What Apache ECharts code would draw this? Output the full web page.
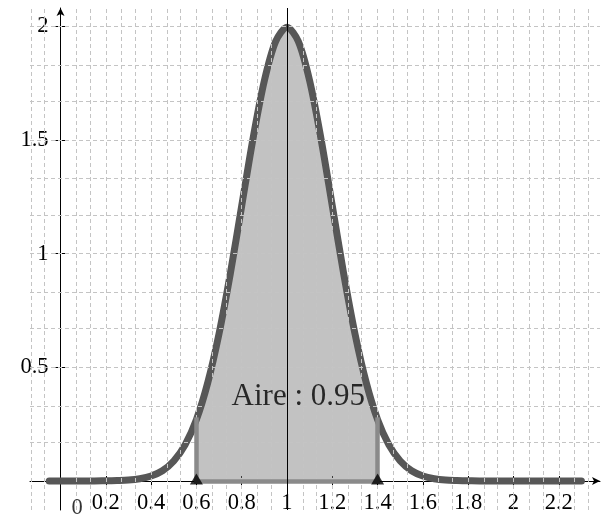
<!DOCTYPE html>
<html><head><meta charset="utf-8">
<script src="https://cdn.jsdelivr.net/npm/echarts@6/dist/echarts.min.js"></script>
<style>html,body{margin:0;padding:0;background:#fff}#c{width:602px;height:517px}</style>
</head><body><div id="c"></div>
<script>
// Density curve
const curveX = [-0.05, 0, 0.05, 0.1, 0.15, 0.2, 0.25, 0.3, 0.35, 0.4, 0.45, 0.5, 0.55, 0.6, 0.65, 0.7, 0.75, 0.8, 0.85, 0.9, 0.95, 1.0,
  1.05, 1.1, 1.15, 1.2, 1.25, 1.3, 1.35, 1.4, 1.45, 1.5, 1.55, 1.6, 1.65, 1.7, 1.75, 1.8, 1.85, 1.9, 1.95, 2.0, 2.05, 2.1, 2.15, 2.2, 2.25, 2.3];
const curveY = [0, 0, 0, 0, 0, 0.001, 0.002, 0.004, 0.010, 0.022, 0.045, 0.088, 0.159, 0.270, 0.432, 0.648, 0.913, 1.210, 1.506, 1.760, 1.933, 1.995,
  1.933, 1.760, 1.506, 1.210, 0.913, 0.648, 0.432, 0.270, 0.159, 0.088, 0.045, 0.022, 0.010, 0.004, 0.002, 0.001, 0, 0, 0, 0, 0, 0, 0, 0, 0, 0];
const areaFrom = 0.6;
const areaTo = 1.4;
const markerX = [0.6, 1.4];
const meanX = 1;
const areaText = 'Aire : 0.95';
const areaTextPos = [1.05, 0.37];
const xTickValues = [0.2, 0.4, 0.6, 0.8, 1, 1.2, 1.4, 1.6, 1.8, 2, 2.2];
const xLabelValues = [0.2, 0.4, 0.6, 0.8, 1, 1.2, 1.4, 1.6, 1.8, 2, 2.2];
const originLabel = '0';
const yTickValues = [0.5, 1, 1.5, 2];

const xGrid = []; for (let k = -2; k <= 35; k++) if (k !== 0) xGrid.push(k / 15);
const yGrid = []; for (let k = 1; k <= 12; k++) yGrid.push(k / 6);

const curveData = curveX.map((x, i) => [x, curveY[i]]);
const fillData = curveData.filter(p => p[0] >= areaFrom - 1e-9 && p[0] <= areaTo + 1e-9);
const yAt = x => curveY[curveX.findIndex(v => Math.abs(v - x) < 1e-9)];
const borderData = [[areaFrom, yAt(areaFrom)], [areaFrom, 0], [areaTo, 0], [areaTo, yAt(areaTo)]];
const borderSegs = [];
for (let i = 0; i < borderData.length - 1; i++) borderSegs.push([{ coord: borderData[i] }, { coord: borderData[i + 1] }]);

const FONT = 'Liberation Serif';
const X_MIN = -0.1347, X_MAX = 2.382, Y_MIN = -0.1275, Y_MAX = 2.08;
const GRID_LEFT = 30, GRID_RIGHT = 2, GRID_TOP = 8, GRID_BOTTOM = 7;
// pixel distance from grid left edge to x = 0, and from grid bottom edge to y = 0
const Y_AXIS_SHIFT = (602 - GRID_LEFT - GRID_RIGHT) * (0 - X_MIN) / (X_MAX - X_MIN);
const X_AXIS_SHIFT = (517 - GRID_TOP - GRID_BOTTOM) * (0 - Y_MIN) / (Y_MAX - Y_MIN);

const chart = echarts.init(document.getElementById('c'));
chart.setOption({
  animation: false,
  backgroundColor: '#fff',
  grid: { left: GRID_LEFT, right: GRID_RIGHT, top: GRID_TOP, bottom: GRID_BOTTOM, containLabel: false, outerBoundsMode: 'none' },
  xAxis: [{
    type: 'value', min: X_MIN, max: X_MAX, position: 'bottom', offset: -X_AXIS_SHIFT,
    axisLine: { show: true, onZero: false, symbol: ['none', 'arrow'], symbolSize: [6, 8], lineStyle: { color: '#000', width: 1 } },
    axisTick: { show: true, customValues: xTickValues, length: 5, lineStyle: { color: '#000', width: 1 } },
    axisLabel: {
      show: true, customValues: xLabelValues, margin: 11, color: '#000', fontFamily: FONT, fontSize: 22.5,
      formatter: v => String(+v.toFixed(1))
    },
    splitLine: { show: false }
  }, {
    type: 'value', min: X_MIN, max: X_MAX, position: 'bottom', offset: -X_AXIS_SHIFT,
    axisLine: { show: false, onZero: false },
    axisTick: { show: true, inside: true, customValues: xTickValues, length: 5, lineStyle: { color: '#000', width: 1 } },
    axisLabel: { show: false }, splitLine: { show: false }
  }],
  yAxis: [{
    type: 'value', min: Y_MIN, max: Y_MAX, position: 'left', offset: -Y_AXIS_SHIFT,
    axisLine: { show: true, onZero: false, symbol: ['none', 'arrow'], symbolSize: [6, 8], lineStyle: { color: '#000', width: 1 } },
    axisTick: { show: true, customValues: yTickValues, length: 5, lineStyle: { color: '#000', width: 1 } },
    axisLabel: { show: true, customValues: yTickValues, margin: 12, color: '#000', fontFamily: FONT, fontSize: 22.5, formatter: v => String(v) },
    splitLine: { show: false }
  }, {
    type: 'value', min: Y_MIN, max: Y_MAX, position: 'left', offset: -Y_AXIS_SHIFT,
    axisLine: { show: false, onZero: false },
    axisTick: { show: true, inside: true, customValues: yTickValues, length: 5, lineStyle: { color: '#000', width: 1 } },
    axisLabel: { show: false }, splitLine: { show: false }
  }],
  series: [
    {
      name: 'grid', type: 'line', data: [], z: 0, silent: true,
      markLine: {
        silent: true, symbol: 'none', label: { show: false }, animation: false,
        lineStyle: { type: [4, 3], color: '#c4c4c4', width: 1 },
        data: xGrid.map(v => ({ xAxis: v })).concat(yGrid.map(v => ({ yAxis: v })))
      }
    },
    {
      name: 'fill', type: 'line', data: fillData, smooth: 0.3, showSymbol: false, z: 1, silent: true,
      lineStyle: { width: 0 }, areaStyle: { color: '#808080', opacity: 0.48, origin: 0 }
    },
    {
      name: 'border', type: 'line', data: [], z: 2, silent: true,
      markLine: {
        silent: true, symbol: 'none', label: { show: false }, animation: false,
        lineStyle: { type: 'solid', color: '#8a8a8a', width: 4.5, cap: 'square' },
        data: borderSegs
      }
    },
    {
      name: 'curve', type: 'line', data: curveData, smooth: 0.3, showSymbol: false, z: 3, silent: true,
      lineStyle: { color: '#575757', width: 7, cap: 'round', join: 'round' }
    },
    {
      name: 'mean', type: 'line', data: [], z: 5, silent: true,
      markLine: { silent: true, symbol: 'none', label: { show: false }, lineStyle: { type: 'solid', color: '#000', width: 1 }, data: [{ xAxis: meanX }] }
    },
    {
      name: 'markers', type: 'scatter', data: markerX.map(x => [x, 0]), z: 6, silent: true,
      symbol: 'triangle', symbolSize: [13, 11], symbolOffset: [0, -2], itemStyle: { color: '#000' }
    },
    {
      name: 'label', type: 'scatter', data: [areaTextPos], z: 7, silent: true, symbolSize: 0,
      label: { show: true, position: 'inside', formatter: areaText, fontFamily: FONT, fontSize: 31, color: '#000' }
    },
    {
      name: 'origin', type: 'scatter', data: [[0, 0]], z: 7, silent: true, symbolSize: 0,
      label: { show: true, position: 'inside', offset: [16.5, 27], formatter: originLabel, fontFamily: FONT, fontSize: 22.5, color: '#000' }
    }
  ]
});
</script></body></html>
